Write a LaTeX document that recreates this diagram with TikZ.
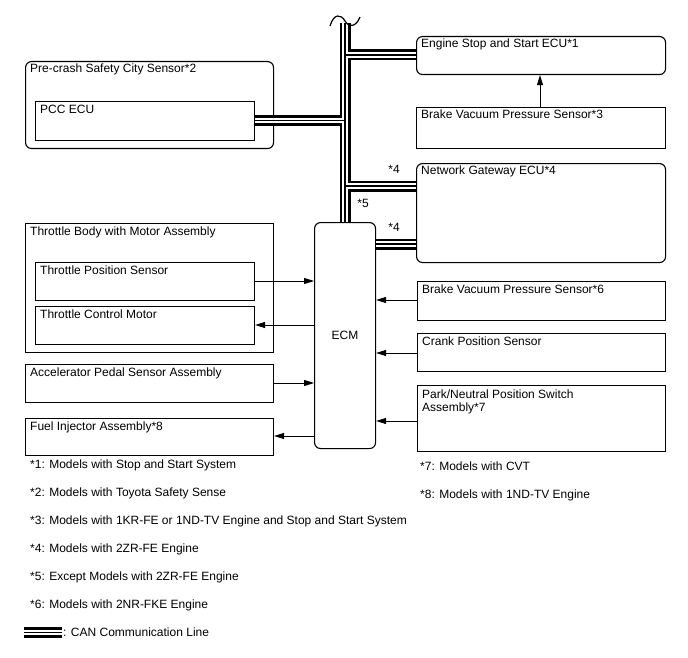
\documentclass[tikz,border=0pt]{standalone}
\usepackage{fontspec}
\setmainfont{Liberation Sans}
\usetikzlibrary{arrows.meta}
\begin{document}
\begin{tikzpicture}[x=1pt,y=-1pt,
  every node/.style={font=\fontsize{12}{14}\selectfont},
  box/.style={draw, line width=1.1pt, anchor=north west, inner sep=0pt},
  rbox/.style={box, rounded corners=6pt},
  txt/.style={anchor=base west, inner sep=0pt},
  arr/.style={line width=0.9pt, -{Triangle[length=10pt,width=6pt]}},
  canA/.style={line width=11pt, black},
  canB/.style={line width=5.6pt, white},
  canC/.style={line width=1.3pt, black}
]
\useasboundingbox (0,0) rectangle (688,658);

% boxes
\node[rbox, minimum width=249pt, minimum height=38pt] (eng) at (416,36) {};
\node[box, minimum width=249pt, minimum height=41pt] (bv3) at (416,107) {};
\node[rbox, minimum width=248pt, minimum height=87pt] (pcs) at (25,61) {};
\node[box, minimum width=219pt, minimum height=39pt] (pcc) at (35,101) {};
\node[rbox, minimum width=249pt, minimum height=99pt] (ng) at (416,163) {};
\node[rbox, minimum width=61pt, minimum height=226pt] (ecm) at (314,222) {};
\node[box, minimum width=248pt, minimum height=129pt] (tb) at (25,223) {};
\node[box, minimum width=219pt, minimum height=38pt] (tps) at (35,262) {};
\node[box, minimum width=219pt, minimum height=38pt] (tcm) at (35,306) {};
\node[box, minimum width=248pt, minimum height=38pt] (aps) at (25,364) {};
\node[box, minimum width=248pt, minimum height=37pt] (fia) at (25,418) {};
\node[box, minimum width=248pt, minimum height=39pt] (bv6) at (417,281) {};
\node[box, minimum width=248pt, minimum height=38pt] (cps) at (417,333) {};
\node[box, minimum width=248pt, minimum height=66pt] (pn) at (417,385) {};

% box texts
\node[txt] (teng) at ([xshift=5pt,yshift=-12pt]eng.north west) {Engine Stop and Start ECU*1};
\node[txt] (tbv3) at ([xshift=5pt,yshift=-12pt]bv3.north west) {Brake Vacuum Pressure Sensor*3};
\node[txt] (tpcs) at ([xshift=5pt,yshift=-12pt]pcs.north west) {Pre-crash Safety City Sensor*2};
\node[txt] (tpcc) at ([xshift=5pt,yshift=-13pt]pcc.north west) {PCC ECU};
\node[txt] (tng) at ([xshift=5pt,yshift=-12pt]ng.north west) {Network Gateway ECU*4};
\node (tecm) at (ecm.center) {ECM};
\node[txt] (ttb) at ([xshift=5pt,yshift=-12pt]tb.north west) {Throttle Body with Motor Assembly};
\node[txt] (ttps) at ([xshift=5pt,yshift=-12pt]tps.north west) {Throttle Position Sensor};
\node[txt] (ttcm) at ([xshift=5pt,yshift=-12pt]tcm.north west) {Throttle Control Motor};
\node[txt] (taps) at ([xshift=5pt,yshift=-12pt]aps.north west) {Accelerator Pedal Sensor Assembly};
\node[txt] (tfia) at ([xshift=5pt,yshift=-12pt]fia.north west) {Fuel Injector Assembly*8};
\node[txt] (tbv6) at ([xshift=5pt,yshift=-12pt]bv6.north west) {Brake Vacuum Pressure Sensor*6};
\node[txt] (tcps) at ([xshift=5pt,yshift=-12pt]cps.north west) {Crank Position Sensor};
\node[txt] (tpn1) at ([xshift=5pt,yshift=-13pt]pn.north west) {Park/Neutral Position Switch};
\node[txt] (tpn2) at ([xshift=5pt,yshift=-26.5pt]pn.north west) {Assembly*7};

% CAN bus
\coordinate (btop) at (345,23);
\coordinate (j1) at (345,55);
\coordinate (j2) at (345,120.5);
\coordinate (j3) at (345,186);
\foreach \s in {canA,canB,canC}{
  \draw[\s] (btop) -- (btop |- ecm.north);
  \draw[\s] (j1) -- (j1 -| eng.west);
  \draw[\s] (pcc.east |- j2) -- (j2);
  \draw[\s] (j3) -- (j3 -| ng.west);
  \draw[\s] (ecm.east |- 0,244) -- (ng.west |- 0,244);
}
\draw[line width=1.2pt] (330,26) .. controls (334,13) and (341,14) .. (345,21)
  .. controls (349,28) and (356,27) .. (360,17);

\node[inner sep=0pt] (s4a) at (394,169) {*4};
\node[inner sep=0pt] (s5) at (363,203) {*5};
\node[inner sep=0pt] (s4b) at (394,227) {*4};

% arrows
\draw[arr] (bv3.north -| 540,0) -- (eng.south -| 540,0);
\draw[arr] (tps.east |- 0,281) -- (ecm.west |- 0,281);
\draw[arr] (ecm.west |- 0,325) -- (tcm.east |- 0,325);
\draw[arr] (aps.east |- 0,383) -- (ecm.west |- 0,383);
\draw[arr] (ecm.west |- 0,436) -- (fia.east |- 0,436);
\draw[arr] (bv6.west |- 0,300) -- (ecm.east |- 0,300);
\draw[arr] (cps.west |- 0,353) -- (ecm.east |- 0,353);
\draw[arr] (pn.west |- 0,421) -- (ecm.east |- 0,421);

% notes
\node[txt] (n1) at (30,468) {*1: Models with Stop and Start System};
\node[txt] (n2) at (30,496) {*2: Models with Toyota Safety Sense};
\node[txt] (n3) at (30,524) {*3: Models with 1KR-FE or 1ND-TV Engine and Stop and Start System};
\node[txt] (n4) at (30,552) {*4: Models with 2ZR-FE Engine};
\node[txt] (n5) at (30,580) {*5: Except Models with 2ZR-FE Engine};
\node[txt] (n6) at (30,608) {*6: Models with 2NR-FKE Engine};
\node[txt] (n7) at (420,470) {*7: Models with CVT};
\node[txt] (n8) at (420,498) {*8: Models with 1ND-TV Engine};
\coordinate (lgA) at (24,632.5);
\coordinate (lgB) at (62,632.5);
\foreach \s in {canA,canB,canC}{ \draw[\s] (lgA) -- (lgB); }
\node[txt] (lgt) at (63,636) {: CAN Communication Line};
\end{tikzpicture}
\end{document}
